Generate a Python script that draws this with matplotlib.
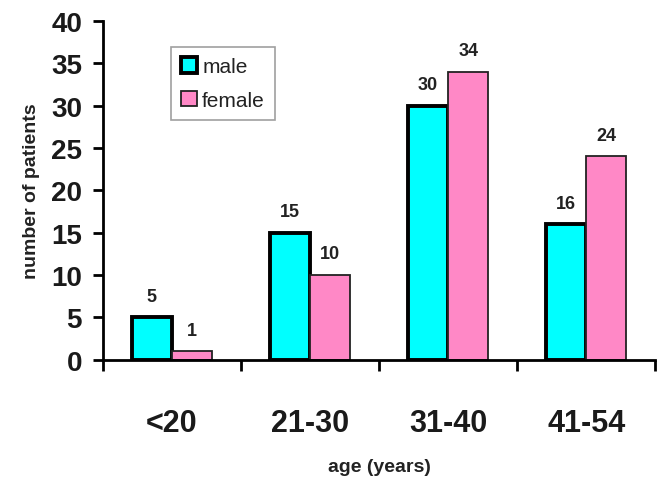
import numpy as np
import matplotlib
matplotlib.use('Agg')
import matplotlib.pyplot as plt

# data
groups = ['<20', '21-30', '31-40', '41-54']
male = [5, 15, 30, 16]
female = [1, 10, 34, 24]

plt.rcParams['font.family'] = ['Liberation Sans', 'DejaVu Sans']

fig = plt.figure(figsize=(6.68, 4.85), dpi=100)
ax = fig.add_axes([0.154, 0.256, 0.827, 0.699])

x = np.arange(len(groups))
w = 0.29
ax.bar(x - w / 2, male, w, color='#00FFFF', edgecolor='black', linewidth=2.8, label='male')
ax.bar(x + w / 2, female, w, color='#FF88C6', edgecolor='#222222', linewidth=1.3, label='female')

# value labels
for xi, v in zip(x, male):
    ax.text(xi - w / 2, v + 1.5, str(v), ha='center', va='bottom', fontsize=13, fontweight='bold', color='#222222')
for xi, v in zip(x, female):
    ax.text(xi + w / 2, v + 1.5, str(v), ha='center', va='bottom', fontsize=13, fontweight='bold', color='#222222')

ax.set_xlim(-0.5, 3.5)
ax.set_ylim(0, 40)
ax.set_yticks(range(0, 41, 5))
ax.set_xticks([-0.5, 0.5, 1.5, 2.5, 3.5])
ax.set_xticklabels([])
ax.set_xticks(x, minor=True)
ax.set_xticklabels(groups, minor=True)
ax.tick_params(axis='x', which='minor', length=0, pad=35, labelsize=22)
ax.tick_params(axis='x', which='major', length=8, width=2, direction='out')
ax.tick_params(axis='y', length=7, width=2, direction='out', labelsize=20, pad=8)
for lab in ax.get_xticklabels(minor=True) + ax.get_yticklabels():
    lab.set_fontweight('bold')
    lab.set_color('#1a1a1a')

ax.spines['top'].set_visible(False)
ax.spines['right'].set_visible(False)
ax.spines['left'].set_linewidth(2)
ax.spines['bottom'].set_linewidth(2)

ax.set_ylabel('number of patients', fontsize=14, fontweight='bold', labelpad=8, color='#222222')
ax.set_xlabel('age (years)', fontsize=14, fontweight='bold', labelpad=14, color='#222222')

leg = ax.legend(loc='upper left', bbox_to_anchor=(0.123, 0.923), borderaxespad=0, fontsize=15,
                frameon=True, fancybox=False, edgecolor='#888888', handlelength=0.75,
                handleheight=0.75, handletextpad=0.25, borderpad=0.5, labelspacing=0.7)
leg.get_frame().set_linewidth(1.2)
for t in leg.get_texts():
    t.set_color('#222222')

fig.savefig('out.png', dpi=100)
